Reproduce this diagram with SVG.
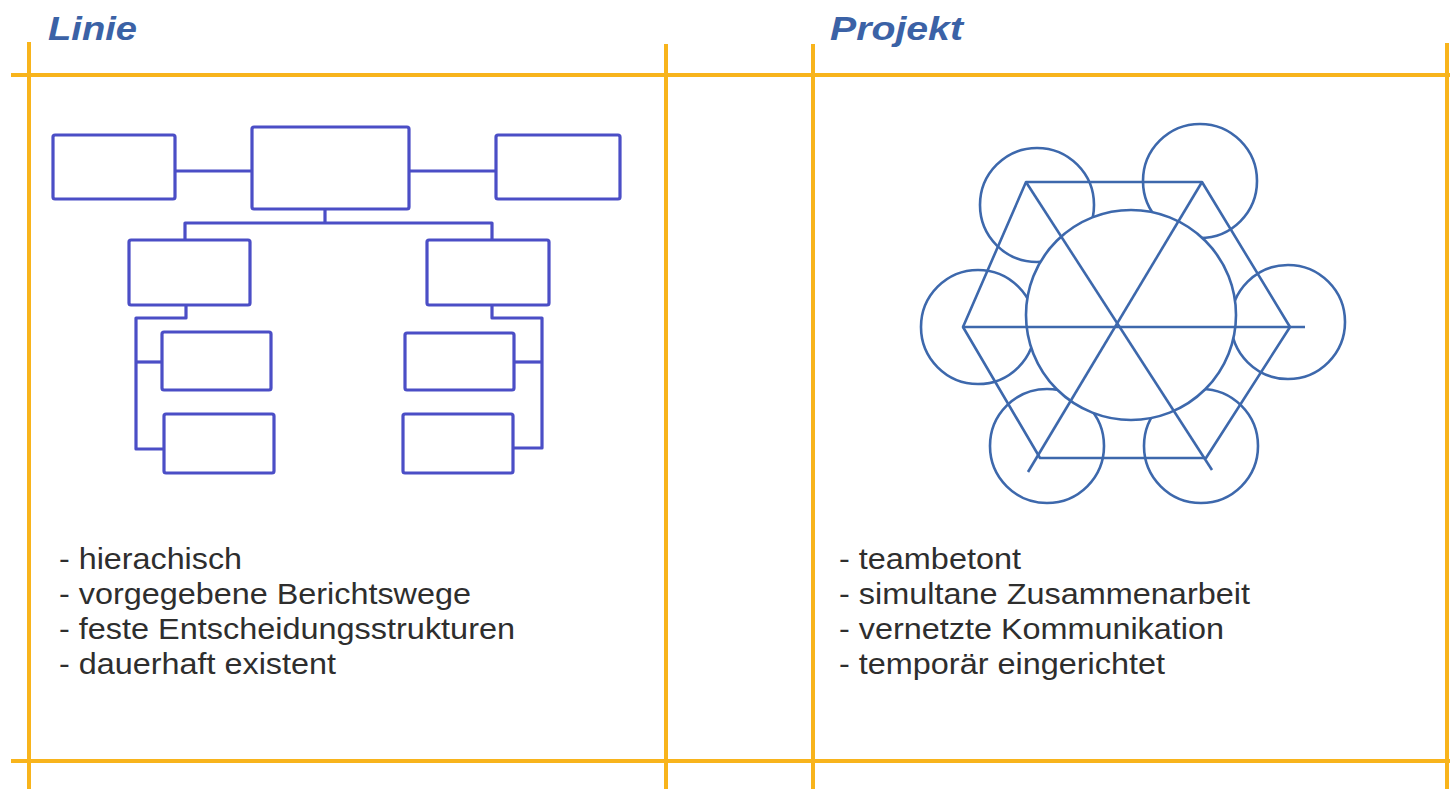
<svg xmlns="http://www.w3.org/2000/svg" width="1450" height="789" viewBox="0 0 1450 789">
<style>
.grid{stroke:#F8B41C;stroke-width:4;fill:none}
.box{fill:#fff;stroke:#4B4EC6;stroke-width:3.2}
.org{stroke:#4B4EC6;stroke-width:3.2;fill:none;stroke-linejoin:round}
.sc{fill:none;stroke:#3D68AC;stroke-width:2.6}
.big{fill:#fff;stroke:#3D68AC;stroke-width:2.6}
.star{fill:none;stroke:#3D68AC;stroke-width:2.6;stroke-linejoin:round}
.title{font-family:"Liberation Sans",Arial,sans-serif;font-weight:bold;font-style:italic;font-size:34px;fill:#3B62A6}
.txt{font-family:"Liberation Sans",Arial,sans-serif;font-size:30px;fill:#2E2E2E}
</style>
<rect width="1450" height="789" fill="#fff"/>
<g id="grid">
<line class="grid" x1="11" y1="75" x2="1450" y2="75"/>
<line class="grid" x1="11" y1="761" x2="1450" y2="761"/>
<line class="grid" x1="29" y1="42" x2="29" y2="789"/>
<line class="grid" x1="666" y1="44" x2="666" y2="789"/>
<line class="grid" x1="813" y1="44" x2="813" y2="789"/>
<line class="grid" x1="1447" y1="43" x2="1447" y2="789"/>
</g>
<g id="titles">
<text class="title" x="48" y="40" textLength="89" lengthAdjust="spacingAndGlyphs">Linie</text>
<text class="title" x="830" y="40" textLength="133" lengthAdjust="spacingAndGlyphs">Projekt</text>
</g>
<g id="org-connectors">
<line class="org" x1="175" y1="171" x2="252" y2="171"/>
<line class="org" x1="409" y1="171" x2="496" y2="171"/>
<polyline class="org" points="325,209 325,223"/>
<polyline class="org" points="185,240 185,223 492,223 492,240"/>
<polyline class="org" points="186,305 186,318 136,318 136,449 164,449"/>
<line class="org" x1="136" y1="362" x2="162" y2="362"/>
<polyline class="org" points="492,305 492,318 542,318 542,448 513,448"/>
<line class="org" x1="514" y1="362" x2="542" y2="362"/>
</g>
<g id="org-top-left"><rect class="box" x="53" y="135" width="122" height="64" rx="2"/></g>
<g id="org-top-center"><rect class="box" x="252" y="127" width="157" height="82" rx="2"/></g>
<g id="org-top-right"><rect class="box" x="496" y="135" width="124" height="64" rx="2"/></g>
<g id="org-mid-left"><rect class="box" x="129" y="240" width="121" height="65" rx="2"/></g>
<g id="org-mid-right"><rect class="box" x="427" y="240" width="122" height="65" rx="2"/></g>
<g id="org-low-left-1"><rect class="box" x="162" y="332" width="109" height="58" rx="2"/></g>
<g id="org-low-left-2"><rect class="box" x="164" y="414" width="110" height="59" rx="2"/></g>
<g id="org-low-right-1"><rect class="box" x="405" y="333" width="109" height="57" rx="2"/></g>
<g id="org-low-right-2"><rect class="box" x="403" y="414" width="110" height="59" rx="2"/></g>
<g id="team-circles">
<g id="c-tl"><circle class="sc" cx="1037" cy="205" r="57"/></g>
<g id="c-tr"><circle class="sc" cx="1200" cy="181" r="57"/></g>
<g id="c-l"><circle class="sc" cx="978" cy="327" r="57"/></g>
<g id="c-r"><circle class="sc" cx="1288" cy="322" r="57"/></g>
<g id="c-bl"><circle class="sc" cx="1047" cy="446" r="57"/></g>
<g id="c-br"><circle class="sc" cx="1201" cy="446" r="57"/></g>
<g id="c-center"><circle class="big" cx="1131" cy="315" r="105"/></g>
</g>
<g id="team-connectors">
<polygon class="star" points="1026,182 1202,182 1290,327 1206,458 1040,458 963,327"/>
<line class="star" x1="1026" y1="182" x2="1212" y2="470"/>
<line class="star" x1="1202" y1="182" x2="1028" y2="472"/>
<line class="star" x1="962" y1="327" x2="1305" y2="327"/>
</g>
<g id="text-linie">
<text class="txt" x="59" y="569" textLength="183" lengthAdjust="spacingAndGlyphs">- hierachisch</text>
<text class="txt" x="59" y="604" textLength="412" lengthAdjust="spacingAndGlyphs">- vorgegebene Berichtswege</text>
<text class="txt" x="59" y="639" textLength="456" lengthAdjust="spacingAndGlyphs">- feste Entscheidungsstrukturen</text>
<text class="txt" x="59" y="674" textLength="277" lengthAdjust="spacingAndGlyphs">- dauerhaft existent</text>
</g>
<g id="text-projekt">
<text class="txt" x="839" y="569" textLength="182" lengthAdjust="spacingAndGlyphs">- teambetont</text>
<text class="txt" x="839" y="604" textLength="411" lengthAdjust="spacingAndGlyphs">- simultane Zusammenarbeit</text>
<text class="txt" x="839" y="639" textLength="385" lengthAdjust="spacingAndGlyphs">- vernetzte Kommunikation</text>
<text class="txt" x="839" y="674" textLength="326" lengthAdjust="spacingAndGlyphs">- temporär eingerichtet</text>
</g>
</svg>
